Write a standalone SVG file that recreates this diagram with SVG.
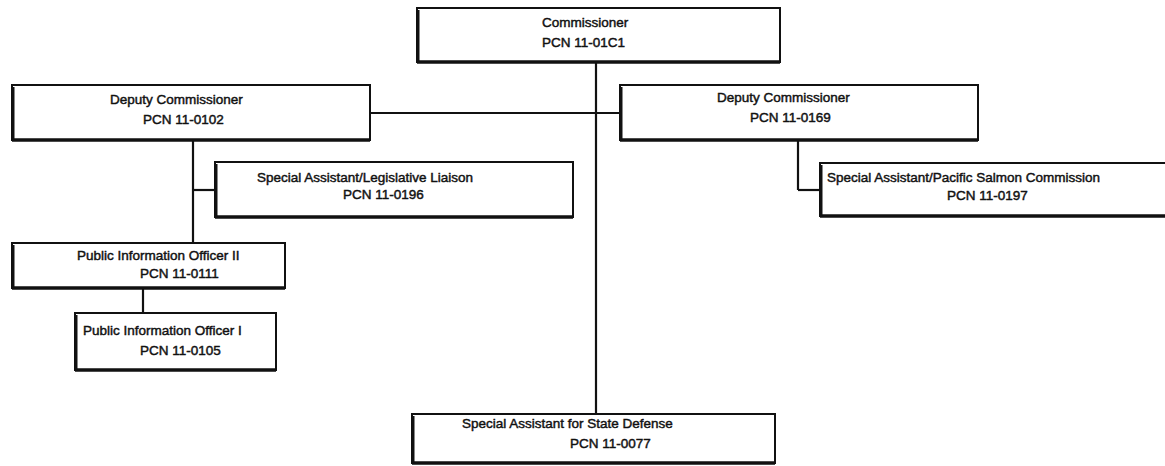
<svg xmlns="http://www.w3.org/2000/svg" width="1165" height="466" viewBox="0 0 1165 466">
  <style>
    .box { fill: #ffffff; stroke: #111111; stroke-width: 2; }
    .base { stroke: #111111; stroke-width: 3.5; fill: none; }
    .side { stroke: #111111; stroke-width: 3; fill: none; }
    .lbl { font-family: "Liberation Sans", Arial, sans-serif; font-size: 13.5px; fill: #111111; stroke: #111111; stroke-width: 0.45; }
    .conn { stroke: #111111; stroke-width: 2.2; fill: none; }
  </style>
  <rect width="1165" height="466" fill="#ffffff"/>

  <!-- reporting lines -->
  <g id="connectors">
    <line class="conn" x1="596" y1="62" x2="596" y2="414"/>
    <line class="conn" x1="370" y1="113" x2="620" y2="113"/>
    <line class="conn" x1="193" y1="140" x2="193" y2="243"/>
    <line class="conn" x1="193" y1="190" x2="215" y2="190"/>
    <line class="conn" x1="798" y1="140" x2="798" y2="190"/>
    <line class="conn" x1="798" y1="190" x2="820" y2="190"/>
    <line class="conn" x1="143" y1="288" x2="143" y2="313"/>
  </g>

  <g id="commissioner">
    <rect class="box" x="417" y="8" width="363" height="54"/>
    <line class="base" x1="417" y1="62" x2="780" y2="62"/>
    <line class="side" x1="418" y1="10" x2="418" y2="62"/>
    <text class="lbl" x="542" y="27">Commissioner</text>
    <text class="lbl" x="542" y="47">PCN 11-01C1</text>
  </g>

  <g id="deputy-0102">
    <rect class="box" x="12" y="85" width="358" height="55"/>
    <line class="base" x1="12" y1="140" x2="370" y2="140"/>
    <line class="side" x1="13" y1="87" x2="13" y2="140"/>
    <text class="lbl" x="110" y="104">Deputy Commissioner</text>
    <text class="lbl" x="143" y="124">PCN 11-0102</text>
  </g>

  <g id="deputy-0169">
    <rect class="box" x="620" y="85" width="358" height="55"/>
    <line class="base" x1="620" y1="140" x2="978" y2="140"/>
    <line class="side" x1="621" y1="87" x2="621" y2="140"/>
    <text class="lbl" x="717" y="102">Deputy Commissioner</text>
    <text class="lbl" x="750" y="122">PCN 11-0169</text>
  </g>

  <g id="legislative-liaison">
    <rect class="box" x="215" y="162" width="358" height="55"/>
    <line class="base" x1="215" y1="217" x2="573" y2="217"/>
    <line class="side" x1="216" y1="164" x2="216" y2="217"/>
    <text class="lbl" x="257" y="182">Special Assistant/Legislative Liaison</text>
    <text class="lbl" x="343" y="199">PCN 11-0196</text>
  </g>

  <g id="pacific-salmon">
    <rect class="box" x="820" y="163" width="360" height="53"/>
    <line class="base" x1="820" y1="216" x2="1165" y2="216"/>
    <line class="side" x1="821" y1="165" x2="821" y2="216"/>
    <text class="lbl" x="827" y="182">Special Assistant/Pacific Salmon Commission</text>
    <text class="lbl" x="947" y="200">PCN 11-0197</text>
  </g>

  <g id="pio-2">
    <rect class="box" x="12" y="243" width="273" height="45"/>
    <line class="base" x1="12" y1="288" x2="285" y2="288"/>
    <line class="side" x1="13" y1="245" x2="13" y2="288"/>
    <text class="lbl" x="77" y="260">Public Information Officer II</text>
    <text class="lbl" x="140" y="278">PCN 11-0111</text>
  </g>

  <g id="pio-1">
    <rect class="box" x="75" y="313" width="201" height="57"/>
    <line class="base" x1="75" y1="370" x2="276" y2="370"/>
    <line class="side" x1="76" y1="315" x2="76" y2="370"/>
    <text class="lbl" x="83" y="335">Public Information Officer I</text>
    <text class="lbl" x="140" y="355">PCN 11-0105</text>
  </g>

  <g id="state-defense">
    <rect class="box" x="412" y="414" width="363" height="49"/>
    <line class="base" x1="412" y1="463" x2="775" y2="463"/>
    <line class="side" x1="413" y1="416" x2="413" y2="463"/>
    <text class="lbl" x="462" y="428">Special Assistant for State Defense</text>
    <text class="lbl" x="570" y="448">PCN 11-0077</text>
  </g>
</svg>
